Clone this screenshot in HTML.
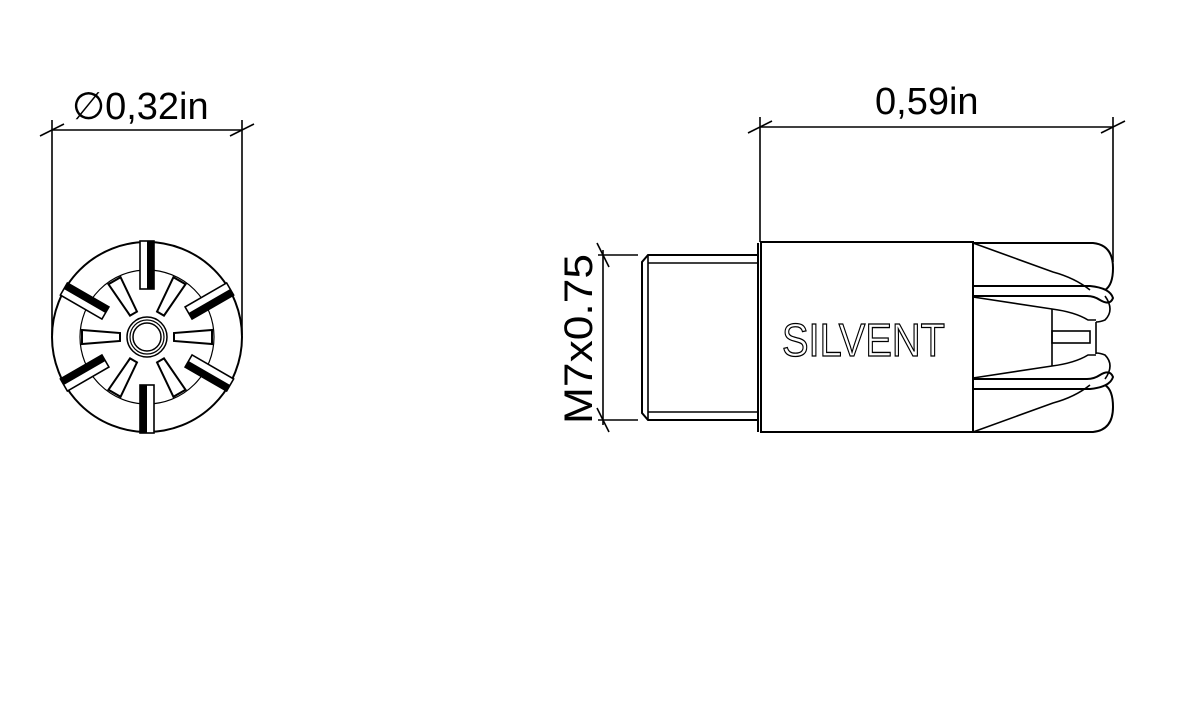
<!DOCTYPE html>
<html><head><meta charset="utf-8"><style>
html,body{margin:0;padding:0;background:#fff;width:1181px;height:708px;overflow:hidden}
svg{display:block}
text{font-family:"Liberation Sans",sans-serif}
</style></head><body>
<svg width="1181" height="708" viewBox="0 0 1181 708" xmlns="http://www.w3.org/2000/svg">
<g stroke="#000" fill="none" stroke-width="1.6">
<!-- left dimension -->
<line x1="52" y1="130" x2="242" y2="130"/>
<line x1="52" y1="120" x2="52" y2="335"/>
<line x1="242" y1="120" x2="242" y2="335"/>
<line x1="40" y1="136" x2="64" y2="124"/>
<line x1="230" y1="136" x2="254" y2="124"/>
<!-- circle view -->
<circle cx="147" cy="337" r="95" stroke-width="2"/>
<circle cx="147" cy="337" r="67" stroke-width="1.2"/>
<circle cx="147" cy="337" r="20" stroke-width="1.5"/>
<circle cx="147" cy="337" r="17" stroke-width="1.2"/>
<circle cx="147" cy="337" r="14" stroke-width="1.5"/>
</g>
<g transform="translate(147,337)">
 <g id="lb"><rect x="-7" y="-96" width="14" height="48" fill="#fff" stroke="#000" stroke-width="1.6"/><rect x="0" y="-96" width="7" height="48" fill="#000"/></g>
 <use href="#lb" transform="rotate(60)"/><use href="#lb" transform="rotate(120)"/><use href="#lb" transform="rotate(180)"/><use href="#lb" transform="rotate(240)"/><use href="#lb" transform="rotate(300)"/>
 <g id="sb"><polygon points="27,-4 27,4 65,7 65,-7" fill="#fff" stroke="#000" stroke-width="2"/></g>
 <use href="#sb" transform="rotate(60)"/><use href="#sb" transform="rotate(120)"/><use href="#sb" transform="rotate(180)"/><use href="#sb" transform="rotate(240)"/><use href="#sb" transform="rotate(300)"/>
</g>
<text x="72" y="119" font-size="38">∅0,32in</text>

<!-- right dimension -->
<g stroke="#000" fill="none" stroke-width="1.6">
<line x1="760" y1="127" x2="1113" y2="127"/>
<line x1="760" y1="117" x2="760" y2="242"/>
<line x1="1113" y1="117" x2="1113" y2="262"/>
<line x1="748" y1="133" x2="772" y2="121"/>
<line x1="1101" y1="133" x2="1125" y2="121"/>
<!-- M7 dim -->
<line x1="598" y1="255" x2="638" y2="255"/>
<line x1="598" y1="420" x2="638" y2="420"/>
<line x1="603" y1="250" x2="603" y2="425"/>
<line x1="597" y1="243" x2="609" y2="267"/>
<line x1="597" y1="408" x2="609" y2="432"/>
<!-- thread -->
<polyline points="758,255 648,255 642,262 642,413 648,420 758,420" stroke-width="2"/>
<line x1="648" y1="255" x2="648" y2="420"/>
<line x1="648" y1="263" x2="758" y2="263"/>
<line x1="648" y1="412" x2="758" y2="412"/>
<line x1="758" y1="243" x2="758" y2="432" stroke-width="2"/>
<!-- body -->
<rect x="761" y="242" width="212" height="190" stroke-width="2"/>
<!-- nose top -->
<path d="M973,243 L1093,243 Q1113,245 1113,268 Q1113,285 1105,290" stroke-width="2"/>
<path d="M973,243 L1053,272 Q1075,278 1090,290" />
<path d="M973,286 L1090,286 Q1110,288 1113,298 Q1110,306 1100,300 Q1094,296 1087,296 L973,296" stroke-width="2"/>
<path d="M973,297 L1052,309 Q1075,312 1088,320 L1096,320" />
<path d="M1105,296 Q1115,310 1105,320 Q1100,322 1096,322" />
<!-- middle -->
<line x1="1052" y1="309" x2="1052" y2="366"/>
<rect x="1052" y="331" width="38" height="12"/>
<line x1="1096" y1="322" x2="1096" y2="354"/>
<!-- nose bottom (mirror around 337.5) -->
<g transform="translate(0,675) scale(1,-1)">
<path d="M973,243 L1093,243 Q1113,245 1113,268 Q1113,285 1105,290" stroke-width="2"/>
<path d="M973,243 L1053,272 Q1075,278 1090,290" />
<path d="M973,286 L1090,286 Q1110,288 1113,298 Q1110,306 1100,300 Q1094,296 1087,296 L973,296" stroke-width="2"/>
<path d="M973,297 L1052,309 Q1075,312 1088,320 L1096,320" />
<path d="M1105,296 Q1115,310 1105,320 Q1100,322 1096,322" />
</g>
</g>
<text x="875" y="114" font-size="38">0,59in</text>
<text x="782" y="356" font-size="46" textLength="163" lengthAdjust="spacingAndGlyphs" fill="#fff" stroke="#000" stroke-width="1.3">SILVENT</text>
<text transform="translate(592,424) rotate(-90)" font-size="40" textLength="170" lengthAdjust="spacingAndGlyphs">M7x0.75</text>
</svg>
</body></html>
